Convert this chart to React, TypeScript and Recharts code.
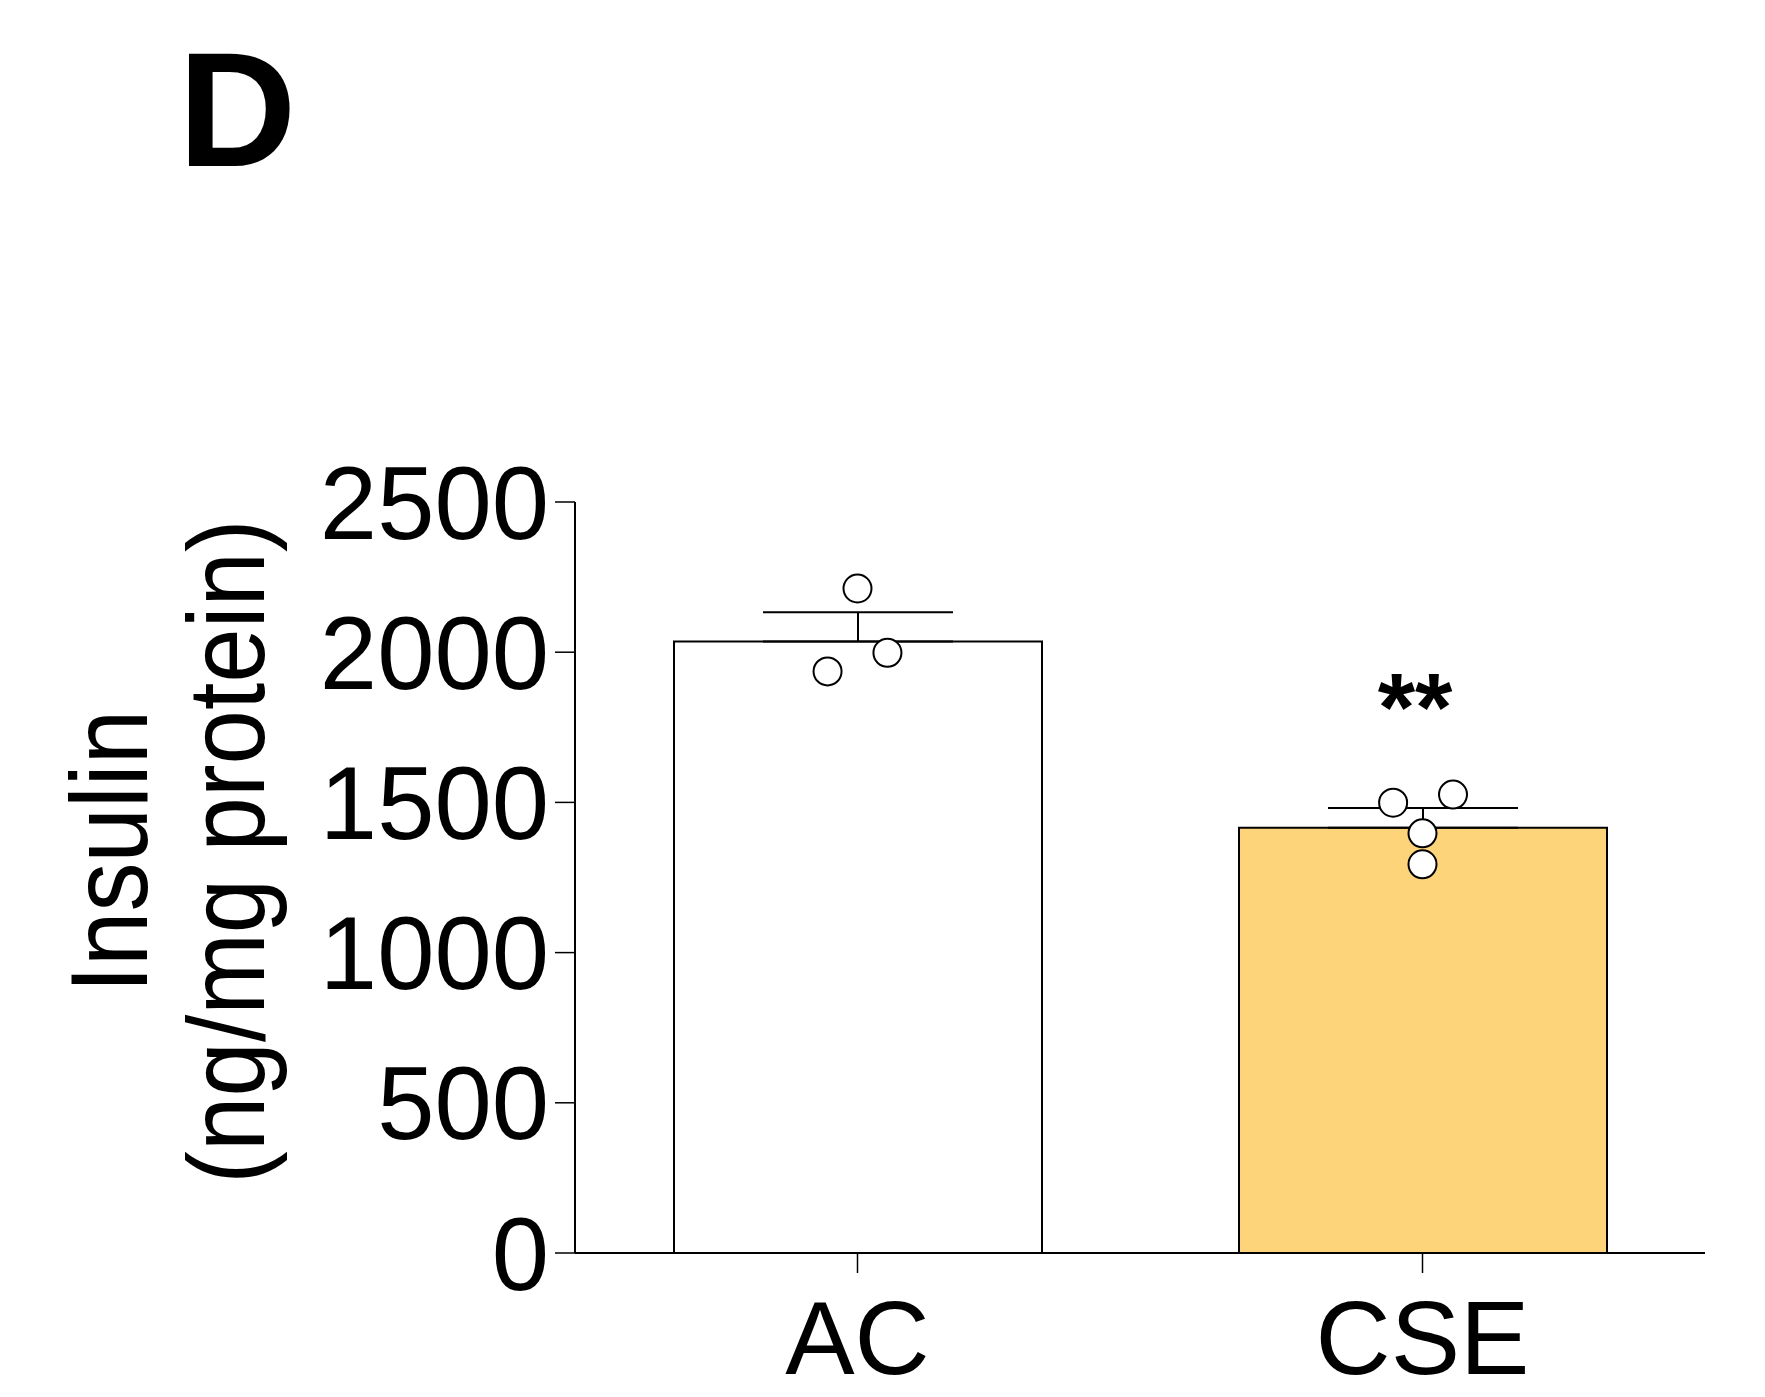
import {
  Bar,
  Cell,
  ComposedChart,
  ErrorBar,
  LabelList,
  Scatter,
  XAxis,
  YAxis,
} from 'recharts'

const GROUPS = ['AC', 'CSE']
const MEANS = [2036, 1416]
const SEMS = [97, 65]
const SIG = ['', '**']
const Y_TICKS = [0, 500, 1000, 1500, 2000, 2500]

// individual replicates; x is in category units (0 = AC, 1 = CSE) to mimic the jitter
const AC_X = [0, 0.053, -0.053]
const AC_Y = [2212, 1998, 1936]
const CSE_X = [0.948, 1.054, 1, 1]
const CSE_Y = [1499, 1526, 1397, 1294]

const FILLS = ['#ffffff', '#fed47a']
const FONT = '"Liberation Sans", Arial, Helvetica, sans-serif'

const barData = GROUPS.map((g, i) => ({
  group: g,
  mean: MEANS[i],
  err: [0, SEMS[i]],
  sig: SIG[i],
}))

const points = [
  ...AC_X.map((x, i) => ({ x, y: AC_Y[i] })),
  ...CSE_X.map((x, i) => ({ x, y: CSE_Y[i] })),
]

function YLabel(props: any) {
  const vb = props.viewBox ?? { x: 0, y: 502, width: 575, height: 751 }
  const cy = vb.y + vb.height / 2 - 26
  const t = 'rotate(-90) scale(0.98, 1.1)'
  return (
    <g fontFamily={FONT} fontSize={100} fill="#000">
      <text transform={`translate(${vb.x + 147}, ${cy}) ${t}`} textAnchor="middle">
        Insulin
      </text>
      <text transform={`translate(${vb.x + 264}, ${cy}) ${t}`} textAnchor="middle">
        (ng/mg protein)
      </text>
    </g>
  )
}

function SigLabel(props: any) {
  const { x, y, width, value } = props
  if (!value) return null
  return (
    <text x={x + width / 2 - 8} y={y - 88} textAnchor="middle" fontFamily={FONT}
      fontSize={96} fontWeight="bold" fill="#000">
      {value}
    </text>
  )
}

function Dot(props: any) {
  return <circle cx={props.cx} cy={props.cy} r={14} fill="#fff" stroke="#000" strokeWidth={2} />
}

export default function App() {
  return (
    <div style={{ position: 'absolute', left: 0, top: 0, width: 1765, height: 1397, background: '#fff' }}>
      <svg width={400} height={220} style={{ position: 'absolute', left: 0, top: 0 }}>
        <text x={178} y={166} fontFamily={FONT} fontSize={164} fontWeight="bold" fill="#000">D</text>
      </svg>
      <ComposedChart width={1765} height={1397} data={barData}
        margin={{ top: 502, right: 60, left: 0, bottom: 0 }}>
        <XAxis dataKey="group" height={144} axisLine={{ stroke: '#000', strokeWidth: 2 }}
          tickLine={{ stroke: '#000', strokeWidth: 1.5 }} tickSize={20} tickMargin={27}
          tick={{ fill: '#000', fontSize: 104, fontFamily: FONT }} />
        <XAxis xAxisId="pts" type="number" dataKey="x" domain={[-0.5, 1.5]} hide />
        <YAxis width={575} domain={[0, 2500]} ticks={Y_TICKS} interval={0}
          axisLine={{ stroke: '#000', strokeWidth: 2 }} tickLine={{ stroke: '#000', strokeWidth: 1.5 }}
          tickSize={20} tickMargin={6} tick={{ fill: '#000', fontSize: 103, fontFamily: FONT }}
          label={<YLabel />} />
        <Bar dataKey="mean" barSize={368} stroke="#000" strokeWidth={2} isAnimationActive={false}>
          {barData.map((d, i) => (
            <Cell key={d.group} fill={FILLS[i]} />
          ))}
          <ErrorBar dataKey="err" width={95} stroke="#000" strokeWidth={2} isAnimationActive={false} />
          <LabelList dataKey="sig" content={SigLabel} />
        </Bar>
        <Scatter xAxisId="pts" data={points} dataKey="y" shape={Dot} isAnimationActive={false} />
      </ComposedChart>
    </div>
  )
}
